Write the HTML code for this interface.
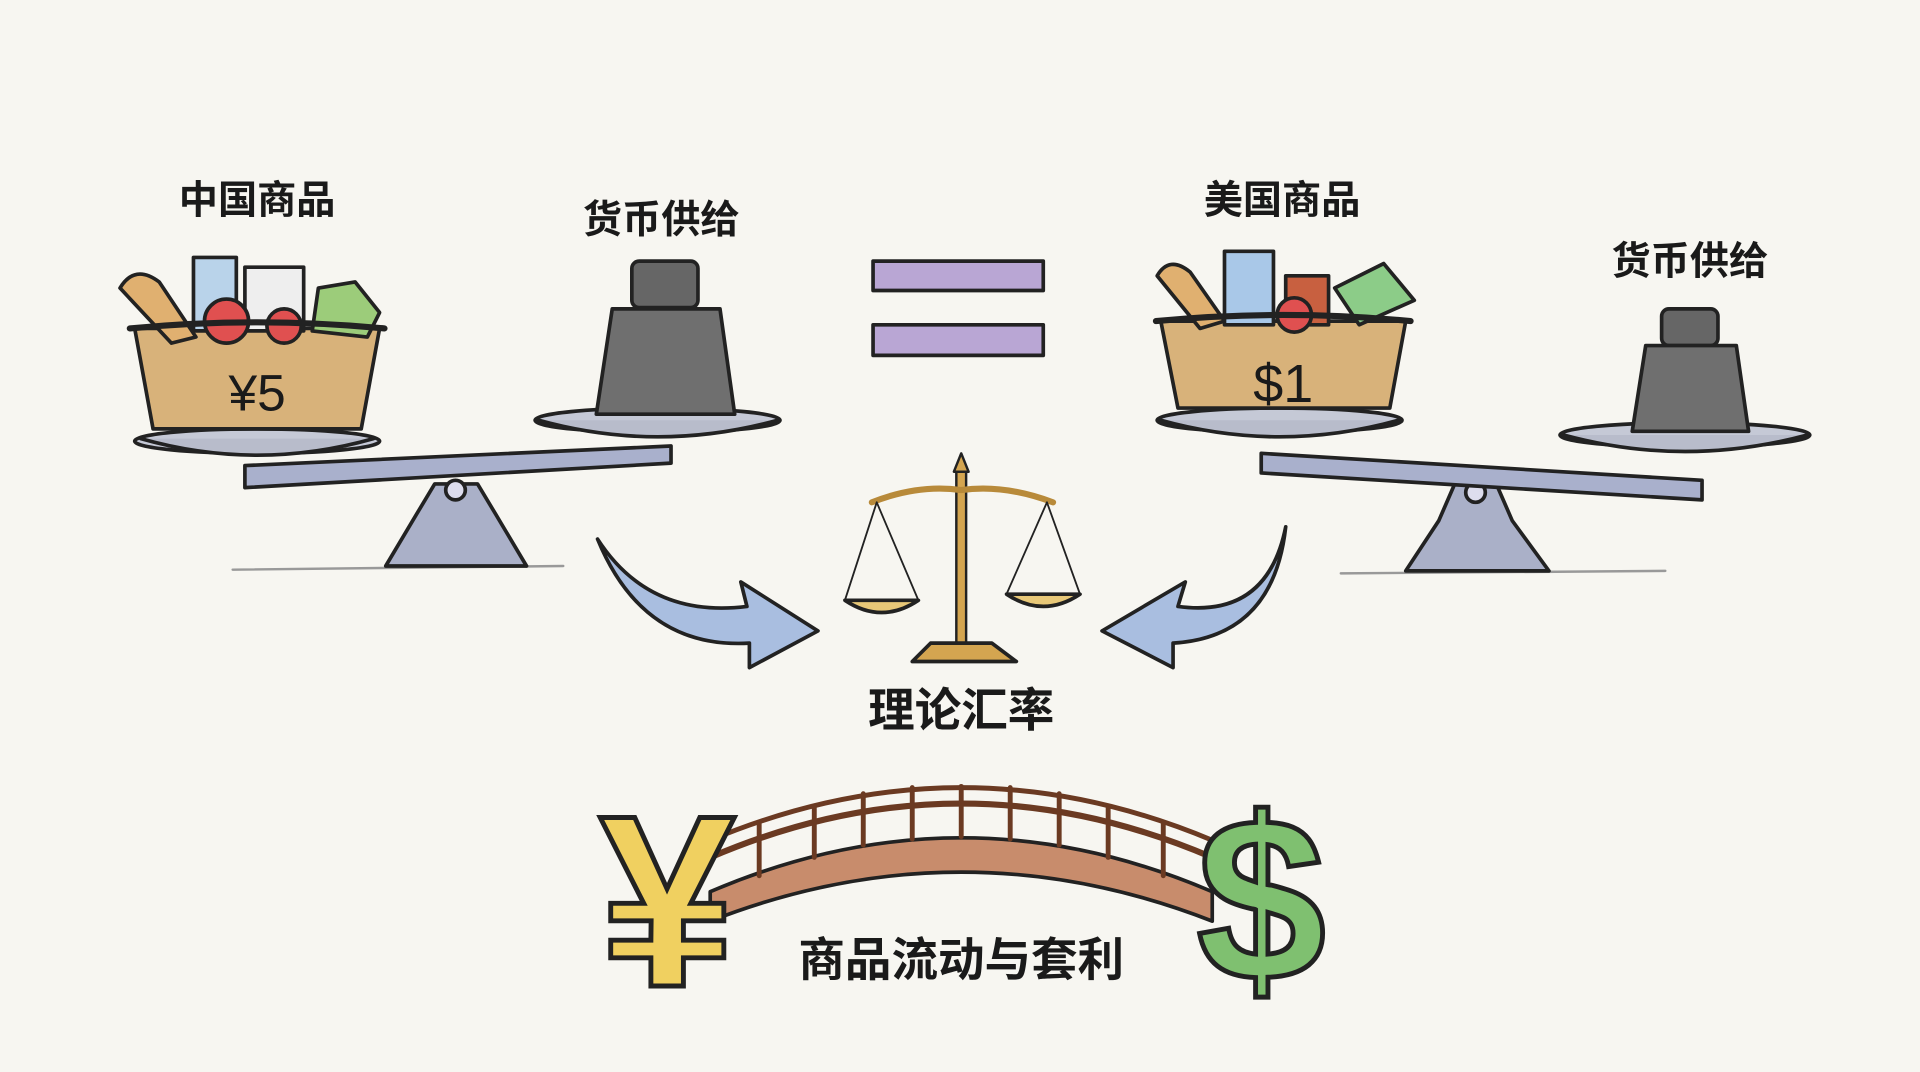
<!DOCTYPE html>
<html><head><meta charset="utf-8"><style>
html,body{margin:0;padding:0;background:#f7f6f1;}
svg{display:block}
text{font-family:"Liberation Sans","Noto Sans CJK SC",sans-serif;fill:#1a1a1a;font-weight:600}
</style></head><body>
<svg width="1920" height="1072" viewBox="0 0 1568 875" xmlns="http://www.w3.org/2000/svg">
<rect width="1568" height="875" fill="#f7f6f1"/>
<g stroke="#222" stroke-width="3" stroke-linejoin="round" stroke-linecap="round">
<!-- Left scale -->
<line x1="190" y1="465" x2="460" y2="462" stroke="#999" stroke-width="2"/>
<path d="M315 462 L340 420 L355 395 L390 395 L405 420 L430 462 Z" fill="#aab0c8"/>
<circle cx="372" cy="400" r="8" fill="#dde"/>
<path d="M200 380 L548 364 L548 378 L200 398 Z" fill="#a9b0cc"/>
<ellipse cx="210" cy="360" rx="100" ry="10" fill="#c5c9d6"/>
<path d="M115 358 Q210 385 305 358" fill="#b8bccb"/>
<ellipse cx="537" cy="343" rx="100" ry="10" fill="#c5c9d6"/>
<path d="M440 343 Q537 370 635 343" fill="#b8bccb"/>
<!-- left basket -->
<path d="M110 268 L310 268 L295 350 L125 350 Z" fill="#d8b27a"/>
<path d="M98 235 Q110 215 130 230 L160 275 L140 280 Z" fill="#e0b070"/>
<rect x="158" y="210" width="35" height="60" fill="#b9d3ea"/>
<rect x="200" y="218" width="48" height="52" fill="#eee"/>
<circle cx="185" cy="262" r="18" fill="#e05050"/>
<circle cx="232" cy="266" r="14" fill="#e05050"/>
<path d="M255 270 L260 235 L290 230 L310 255 L300 275 Z" fill="#9ccc7a"/>
<path d="M106 268 Q210 258 314 268" fill="none" stroke-width="5"/>
<!-- left weight -->
<rect x="516" y="213" width="54" height="38" rx="6" fill="#666"/>
<path d="M500 252 L588 252 L600 338 L487 338 Z" fill="#6f6f6f"/>
<!-- Equals -->
<rect x="713" y="213" width="139" height="24" fill="#b9a6d4"/>
<rect x="713" y="265" width="139" height="25" fill="#b9a6d4"/>
<!-- Right scale -->
<line x1="1095" y1="468" x2="1360" y2="466" stroke="#999" stroke-width="2"/>
<path d="M1148 466 L1175 425 L1188 395 L1222 395 L1235 425 L1265 466 Z" fill="#aab0c8"/>
<circle cx="1205" cy="402" r="8" fill="#dde"/>
<path d="M1030 370 L1390 392 L1390 408 L1030 386 Z" fill="#a9b0cc"/>
<ellipse cx="1045" cy="343" rx="100" ry="10" fill="#c5c9d6"/>
<path d="M948 343 Q1045 370 1142 343" fill="#b8bccb"/>
<ellipse cx="1376" cy="355" rx="102" ry="10" fill="#c5c9d6"/>
<path d="M1277 355 Q1376 382 1476 355" fill="#b8bccb"/>
<!-- right basket -->
<path d="M948 262 L1148 262 L1135 333 L962 333 Z" fill="#d8b27a"/>
<path d="M945 225 Q955 208 972 222 L1000 262 L980 268 Z" fill="#e0b070"/>
<rect x="1000" y="205" width="40" height="60" fill="#a9c8e8"/>
<rect x="1050" y="225" width="35" height="40" fill="#c86040"/>
<circle cx="1057" cy="257" r="14" fill="#e05050"/>
<path d="M1090 235 L1130 215 L1155 245 L1110 265 Z" fill="#8ccc88"/>
<path d="M944 262 Q1048 252 1152 262" fill="none" stroke-width="5"/>
<!-- right weight -->
<rect x="1357" y="252" width="46" height="30" rx="6" fill="#666"/>
<path d="M1344 282 L1418 282 L1428 352 L1333 352 Z" fill="#6f6f6f"/>
<!-- arrows -->
<path d="M488 440 Q530 505 610 495 L605 475 L668 515 L612 545 L612 525 Q525 530 488 440 Z" fill="#a9bee0"/>
<path d="M1050 430 Q1035 505 962 495 L968 475 L900 515 L958 545 L958 525 Q1040 520 1050 430 Z" fill="#a9bee0"/>
<!-- justice -->
<path d="M779 385 L785 370 L791 385 Z" fill="#d4a550" stroke-width="2"/>
<rect x="781" y="385" width="8" height="140" fill="#d4a550" stroke-width="2"/>
<path d="M712 410 Q750 395 785 400 Q820 395 860 410" fill="none" stroke="#b88a3a" stroke-width="5"/>
<path d="M716 410 L690 490 M716 410 L750 490 M855 410 L822 485 M855 410 L882 485" stroke-width="1.5" fill="none"/>
<path d="M690 490 Q720 510 750 490 Z" fill="#e8c878"/>
<path d="M822 485 Q852 505 882 485 Z" fill="#e8c878"/>
<path d="M760 525 L810 525 L830 540 L745 540 Z" fill="#d4a550"/>
<!-- bridge -->
<path d="M580 728 Q785 640 990 728 L990 752 Q785 672 580 752 Z" fill="#c88c6c"/>
<path d="M580 700 Q785 612 990 700" fill="none" stroke="#6b3a22" stroke-width="5"/>
<path d="M580 686 Q785 600 990 686" fill="none" stroke="#6b3a22" stroke-width="4"/>
<g stroke="#6b3a22" stroke-width="4">
<line x1="620" y1="672" x2="620" y2="715"/><line x1="665" y1="658" x2="665" y2="700"/>
<line x1="705" y1="648" x2="705" y2="690"/><line x1="745" y1="643" x2="745" y2="685"/>
<line x1="785" y1="642" x2="785" y2="683"/><line x1="825" y1="643" x2="825" y2="685"/>
<line x1="865" y1="648" x2="865" y2="690"/><line x1="905" y1="658" x2="905" y2="700"/>
<line x1="950" y1="672" x2="950" y2="715"/>
</g>
</g>
<text x="545" y="805" font-size="200" text-anchor="middle" style="fill:#f0d060;stroke:#222;stroke-width:4">¥</text>
<text x="1030" y="800" font-size="190" text-anchor="middle" style="fill:#7fc070;stroke:#222;stroke-width:4">$</text>
<text x="210" y="335" font-size="42" text-anchor="middle" style="font-weight:normal">¥5</text>
<text x="1048" y="328" font-size="44" text-anchor="middle" style="font-weight:normal">$1</text>
<text x="210" y="174" font-size="32" text-anchor="middle">中国商品</text>
<text x="540" y="190" font-size="32" text-anchor="middle">货币供给</text>
<text x="1047" y="174" font-size="32" text-anchor="middle">美国商品</text>
<text x="1380" y="224" font-size="32" text-anchor="middle">货币供给</text>
<text x="785" y="593" font-size="38" text-anchor="middle">理论汇率</text>
<text x="785" y="797" font-size="38" text-anchor="middle">商品流动与套利</text>
</svg>
</body></html>
